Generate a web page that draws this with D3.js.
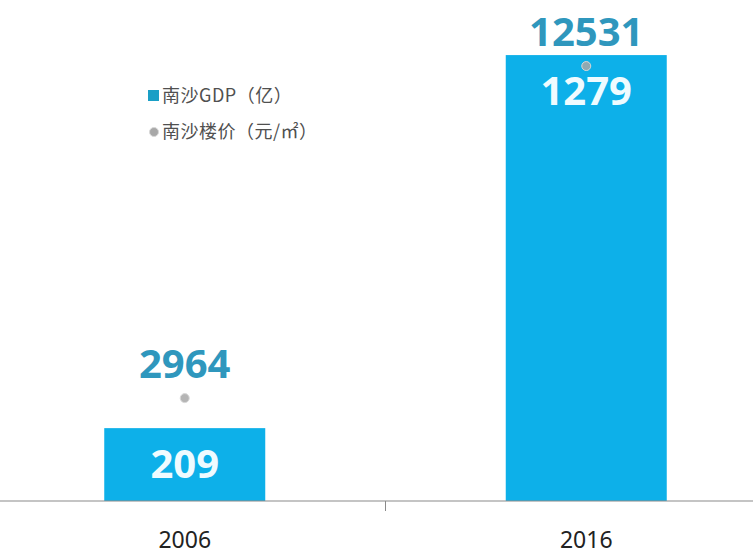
<!DOCTYPE html>
<html><head><meta charset="utf-8">
<script src="https://cdn.jsdelivr.net/npm/d3@7/dist/d3.min.js"></script>
<style>body{margin:0;background:#fff}svg{display:block}</style>
</head><body>
<script>
const categories = ["2006", "2016"];
const gdpValues = [209, 1279];
const priceValues = [2964, 12531];
const legendLabels = ["南沙GDP（亿）", "南沙楼价（元/㎡）"];

const W = 753, H = 558, baseY = 501;
const svg = d3.select("body").append("svg").attr("width", W).attr("height", H);

const x = d3.scaleBand().domain(categories).range([-16, 787]).padding(0);
const barW = 161;
const yG = d3.scaleLinear().domain([0, 1437]).range([baseY, 0]);
const yP = d3.scaleLinear().domain([0, 14434]).range([baseY, 0]);
const cx = c => x(c) + x.bandwidth() / 2;

// bars
svg.selectAll("rect.bar").data(categories).join("rect")
  .attr("class", "bar")
  .attr("x", c => cx(c) - barW / 2)
  .attr("width", barW)
  .attr("y", (c, i) => yG(gdpValues[i]))
  .attr("height", (c, i) => baseY - yG(gdpValues[i]))
  .attr("fill", "#0db0e9");

// axis
const axis = d3.axisBottom(x).tickSize(0).tickPadding(0).tickFormat("");
const ag = svg.append("g").attr("transform", `translate(0,${baseY})`).call(axis);
ag.select(".domain").remove();
ag.append("line").attr("x1", 0).attr("x2", W).attr("y1", 0).attr("y2", 0)
  .attr("stroke", "#8a8a8a").attr("stroke-width", 1.2);
ag.append("line").attr("x1", (cx(categories[0]) + cx(categories[1])) / 2)
  .attr("x2", (cx(categories[0]) + cx(categories[1])) / 2)
  .attr("y1", 0).attr("y2", 10).attr("stroke", "#8a8a8a");

svg.selectAll("text.cat").data(categories).join("text")
  .attr("class", "cat")
  .attr("x", cx).attr("y", 548)
  .attr("text-anchor", "middle")
  .attr("font-family", "Noto Sans, sans-serif")
  .attr("font-size", 23).attr("fill", "#222")
  .text(d => d);

// GDP labels inside bars
svg.selectAll("text.gdp").data(categories).join("text")
  .attr("class", "gdp")
  .attr("x", cx)
  .attr("y", (c, i) => yG(gdpValues[i]) + 50)
  .attr("text-anchor", "middle")
  .attr("font-family", "Open Sans, sans-serif").attr("font-weight", 700)
  .attr("font-size", 40).attr("fill", "#effbff")
  .text((c, i) => gdpValues[i]);

// price points
svg.selectAll("circle.price").data(categories).join("circle")
  .attr("class", "price")
  .attr("cx", cx)
  .attr("cy", (c, i) => yP(priceValues[i]))
  .attr("r", 4.5)
  .attr("fill", "#a8a8a8").attr("fill-opacity", 0.85)
  .attr("stroke", "#d8d8d8").attr("stroke-width", 1);

svg.selectAll("text.price").data(categories).join("text")
  .attr("class", "price")
  .attr("x", cx)
  .attr("y", (c, i) => yP(priceValues[i]) - 20)
  .attr("text-anchor", "middle")
  .attr("font-family", "Open Sans, sans-serif").attr("font-weight", 700)
  .attr("font-size", 40).attr("fill", "#2f97bd")
  .text((c, i) => priceValues[i]);

// legend
const lg = svg.append("g");
lg.append("rect").attr("x", 148).attr("y", 90).attr("width", 11).attr("height", 11).attr("fill", "#1a9fc6");
lg.append("circle").attr("cx", 154).attr("cy", 132).attr("r", 4.5).attr("fill", "#a8a8a8").attr("stroke", "#d8d8d8");
lg.selectAll("text").data(legendLabels).join("text")
  .attr("x", 162).attr("y", (d, i) => 102 + i * 36)
  .attr("font-family", "Noto Sans CJK SC, sans-serif")
  .attr("font-size", 18).attr("letter-spacing", 0.5).attr("fill", "#505050")
  .text(d => d);
</script>
</body></html>
